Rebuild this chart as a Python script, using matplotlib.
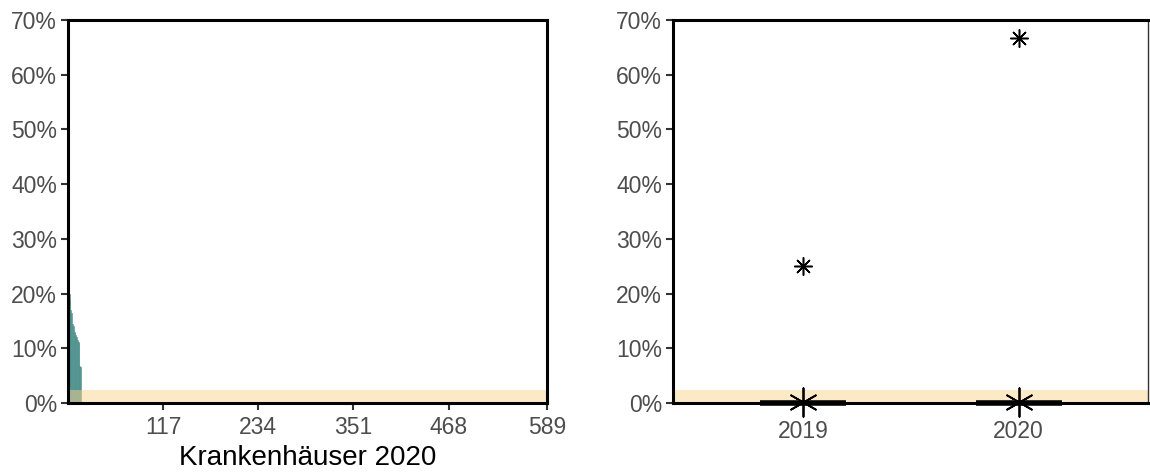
import matplotlib
matplotlib.use("Agg")
import matplotlib.pyplot as plt
import numpy as np
from matplotlib.ticker import FuncFormatter

plt.rcParams["font.family"] = ["Liberation Sans", "DejaVu Sans"]

# --- data -------------------------------------------------------------------
N_HOSPITALS = 589
top_shares = [67.0, 20.0, 19.0, 17.0, 16.5, 14.5, 14.0, 13.0, 12.8,
              12.5, 12.0, 11.5, 11.2, 11.0, 6.8, 6.6]
hospital_shares = top_shares + [0.0] * (N_HOSPITALS - len(top_shares))
x_ticks = [117, 234, 351, 468, 589]
x_label = "Krankenhäuser 2020"

band_upper = 2.4  # reference band (%)

years = ["2019", "2020"]
medians = [0.0, 0.0]
means = [0.2, 0.2]
outliers = [[25.0], [66.8]]

y_ticks = [0, 10, 20, 30, 40, 50, 60, 70]

TEAL = "#4f918e"
BAND = "#fad48f"
GREY_TXT = "#4d4d4d"

pct = FuncFormatter(lambda v, _: f"{v:.0f}%")

fig = plt.figure(figsize=(11.5, 4.73), dpi=100)
ax1 = fig.add_axes([68 / 1150, 70 / 473, 479 / 1150, 383 / 473])
ax2 = fig.add_axes([673 / 1150, 70 / 473, 475 / 1150, 383 / 473])

# --- left: sorted bars ------------------------------------------------------
idx = np.arange(len(hospital_shares))
ax1.bar(idx, hospital_shares, width=1.0, align="edge", color=TEAL,
        edgecolor=TEAL, linewidth=0.4, zorder=2)
ax1.axhspan(0, band_upper, color=BAND, alpha=0.5, lw=0, zorder=3)
ax1.set_xlim(0, N_HOSPITALS)
ax1.set_xticks(x_ticks)
ax1.set_xlabel(x_label, fontsize=20, labelpad=5)

# --- right: boxplots ----------------------------------------------------------
pos = np.arange(1, len(years) + 1)
stats = []
for y, m, fl in zip(years, medians, outliers):
    stats.append(dict(label=y, med=m, q1=m, q3=m, whislo=m, whishi=m,
                      fliers=fl))
bp = ax2.bxp(stats, positions=pos, widths=0.4, patch_artist=True,
             boxprops=dict(facecolor="black", edgecolor="black", linewidth=1),
             medianprops=dict(color="black", linewidth=4,
                              solid_capstyle="butt"),
             whiskerprops=dict(color="black", linewidth=1),
             capprops=dict(linewidth=0),
             flierprops=dict(marker=(8, 2, 0), markersize=13,
                             markeredgecolor="black", markeredgewidth=1.1),
             zorder=4)
for line in bp["medians"]:
    line.set_clip_on(False)
    line.set_zorder(7)
ax2.scatter(pos, means, marker=(6, 2, 0), s=420, color="black",
            linewidths=1.3, zorder=8, clip_on=False)
ax2.axhspan(0, band_upper, color=BAND, alpha=0.5, lw=0, zorder=1)
ax2.set_xlim(0.395, 2.6)
ax2.set_xticks(pos)
ax2.set_xticklabels(years)

for ax in (ax1, ax2):
    ax.set_ylim(0, 70)
    ax.set_yticks(y_ticks)
    ax.yaxis.set_major_formatter(pct)
    ax.tick_params(labelsize=16.5, labelcolor=GREY_TXT, color="#333333",
                   width=1.5, length=5, pad=3)
    for s in ax.spines.values():
        s.set_linewidth(2.2)
        s.set_color("black")
        s.set_zorder(6)

ax1.tick_params(axis="x", pad=4)
ax2.tick_params(axis="x", length=0, pad=12)
ax2.spines["right"].set_linewidth(1.0)
ax2.spines["right"].set_color("#333333")

fig.savefig("out.png", dpi=100)
